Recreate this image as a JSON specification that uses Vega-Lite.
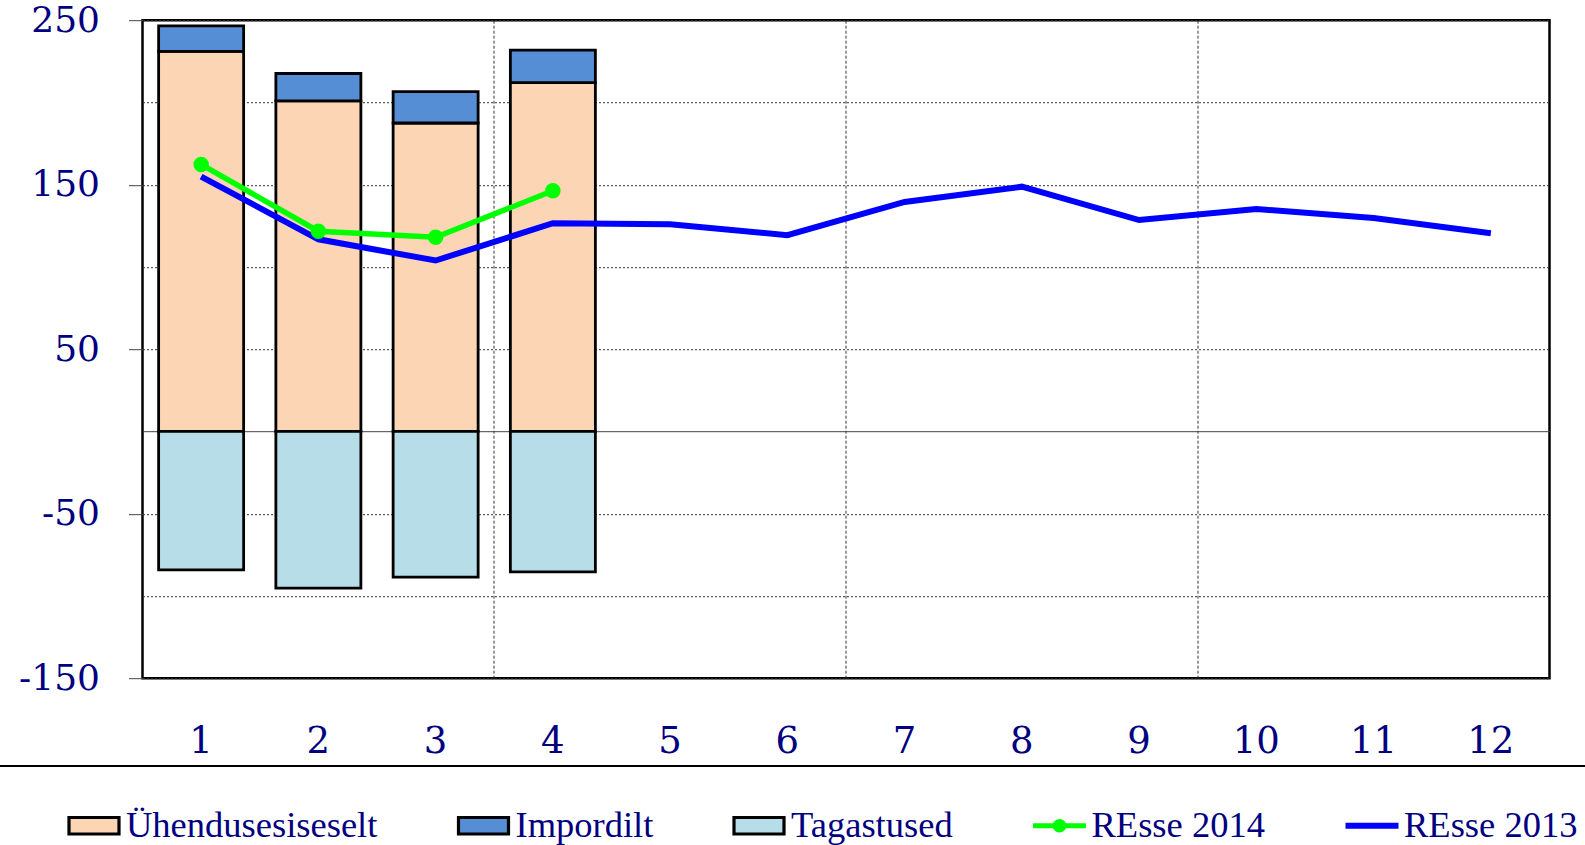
{
  "$schema": "https://vega.github.io/schema/vega-lite/v6.json",
  "width": 1407,
  "height": 658,
  "autosize": {"type": "none"},
  "padding": {"left": 142.5, "top": 20.2, "right": 35.5, "bottom": 166.8},
  "background": "white",
  "config": {
    "view": {"stroke": "black", "strokeWidth": 2.5},
    "legend": {"strokeWidth": 2}
  },
  "datasets": {
    "bars": [
      {"month": 1, "series": "Ühendusesiseselt", "value": 231.1},
      {"month": 1, "series": "Impordilt", "value": 15.4},
      {"month": 1, "series": "Tagastused", "value": -84.2},
      {"month": 2, "series": "Ühendusesiseselt", "value": 201.0},
      {"month": 2, "series": "Impordilt", "value": 16.6},
      {"month": 2, "series": "Tagastused", "value": -95.3},
      {"month": 3, "series": "Ühendusesiseselt", "value": 187.5},
      {"month": 3, "series": "Impordilt", "value": 19.1},
      {"month": 3, "series": "Tagastused", "value": -88.5},
      {"month": 4, "series": "Ühendusesiseselt", "value": 212.1},
      {"month": 4, "series": "Impordilt", "value": 19.7},
      {"month": 4, "series": "Tagastused", "value": -85.4}
    ],
    "lines": [
      {"month": 1, "series": "REsse 2014", "value": 162.3},
      {"month": 2, "series": "REsse 2014", "value": 121.7},
      {"month": 3, "series": "REsse 2014", "value": 118.0},
      {"month": 4, "series": "REsse 2014", "value": 146.3},
      {"month": 1, "series": "REsse 2013", "value": 154.9},
      {"month": 2, "series": "REsse 2013", "value": 116.8},
      {"month": 3, "series": "REsse 2013", "value": 103.9},
      {"month": 4, "series": "REsse 2013", "value": 126.6},
      {"month": 5, "series": "REsse 2013", "value": 126.0},
      {"month": 6, "series": "REsse 2013", "value": 119.3},
      {"month": 7, "series": "REsse 2013", "value": 139.5},
      {"month": 8, "series": "REsse 2013", "value": 148.8},
      {"month": 9, "series": "REsse 2013", "value": 128.5},
      {"month": 10, "series": "REsse 2013", "value": 135.2},
      {"month": 11, "series": "REsse 2013", "value": 129.7},
      {"month": 12, "series": "REsse 2013", "value": 120.5}
    ]
  },
  "resolve": {"axis": {"x": "independent"}},
  "layer": [
    {
      "data": {"name": "bars"},
      "mark": {"type": "bar", "strokeWidth": 2.8},
      "encoding": {
        "x": {
          "field": "month", "type": "ordinal",
          "scale": {"paddingInner": 0.275, "paddingOuter": 0.1375},
          "axis": {
            "orient": "bottom", "title": null, "labelAngle": 0, "grid": false,
            "domain": false, "ticks": false, "labelPadding": 45,
            "labelFont": "DejaVu Serif", "labelFontSize": 37, "labelColor": "#000080"
          }
        },
        "y": {
          "field": "value", "type": "quantitative", "stack": "zero",
          "scale": {"domain": [-150, 250], "nice": false, "zero": false},
          "axis": {
            "title": null,
            "values": [-150, -100, -50, 0, 50, 100, 150, 200, 250],
            "labelExpr": "(datum.value + 150) % 100 === 0 ? toString(datum.value) : ''",
            "grid": true,
            "gridDash": {"condition": {"test": "datum.value === 0", "value": [1, 0]}, "value": [2, 2]},
            "gridColor": {"condition": {"test": "datum.value === 0", "value": "#444444"}, "value": "#333333"},
            "gridWidth": 1,
            "tickSize": 14,
            "tickColor": "#444444",
            "tickOpacity": {"condition": {"test": "(datum.value + 150) % 100 === 0", "value": 1}, "value": 0},
            "domain": false,
            "labelPadding": 29,
            "labelFont": "DejaVu Serif", "labelFontSize": 36, "labelColor": "#000080"
          }
        },
        "color": {
          "field": "series", "type": "nominal",
          "scale": {
            "domain": ["Ühendusesiseselt", "Impordilt", "Tagastused", "REsse 2014", "REsse 2013"],
            "range": ["#FCD5B5", "#558ED5", "#B7DDE8", "#00FF00", "#0000FF"]
          },
          "legend": {
            "title": " ", "titleOrient": "left", "titlePadding": 100, "titleFontSize": 1, "titleOpacity": 0,
            "orient": "none", "legendX": -208, "legendY": 745.8,
            "direction": "horizontal", "columns": 5, "columnPadding": 73.5,
            "padding": 32.5, "strokeColor": "black",
            "symbolSize": 2500, "symbolStrokeWidth": 3.2, "labelOffset": 5,
            "labelFont": "Liberation Serif", "labelFontSize": 36.5, "labelColor": "#000080", "labelLimit": 0
          }
        },
        "stroke": {
          "field": "series", "type": "nominal",
          "scale": {
            "domain": ["Ühendusesiseselt", "Impordilt", "Tagastused", "REsse 2014", "REsse 2013"],
            "range": ["black", "black", "black", "transparent", "transparent"]
          }
        },
        "order": {"field": "series", "sort": "descending"}
      }
    },
    {
      "data": {"name": "lines"},
      "transform": [{"filter": "false"}],
      "mark": {"type": "point", "filled": true},
      "encoding": {
        "shape": {
          "field": "series", "type": "nominal",
          "scale": {
            "domain": ["Ühendusesiseselt", "Impordilt", "Tagastused", "REsse 2014", "REsse 2013"],
            "range": [
              "M-1,-0.33H1V0.33H-1Z",
              "M-1,-0.33H1V0.33H-1Z",
              "M-1,-0.33H1V0.33H-1Z",
              "M-1.06,-0.1H1.06V0.1H-1.06Z M0.27,0A0.27,0.27,0,1,1,-0.27,0A0.27,0.27,0,1,1,0.27,0Z",
              "M-1.06,-0.12H1.06V0.12H-1.06Z"
            ]
          }
        }
      }
    },
    {
      "data": {"name": "lines"},
      "transform": [{"filter": "datum.series === 'REsse 2013'"}],
      "mark": {"type": "line", "strokeWidth": 6, "color": "#0000FF"},
      "encoding": {
        "x": {"field": "month", "type": "ordinal", "axis": null},
        "y": {"field": "value", "type": "quantitative"}
      }
    },
    {
      "data": {"name": "lines"},
      "transform": [{"filter": "datum.series === 'REsse 2014'"}],
      "mark": {"type": "line", "strokeWidth": 5.5, "color": "#00FF00", "point": {"filled": true, "size": 240, "opacity": 1, "color": "#00FF00"}},
      "encoding": {
        "x": {
          "field": "month", "type": "ordinal",
          "axis": {
            "orient": "bottom", "values": [4, 7, 10], "bandPosition": -0.1897, "title": null,
            "grid": true, "gridDash": [3, 2], "gridColor": "#333333", "gridWidth": 1,
            "labels": false, "ticks": false, "domain": false
          }
        },
        "y": {"field": "value", "type": "quantitative"}
      }
    }
  ]
}
